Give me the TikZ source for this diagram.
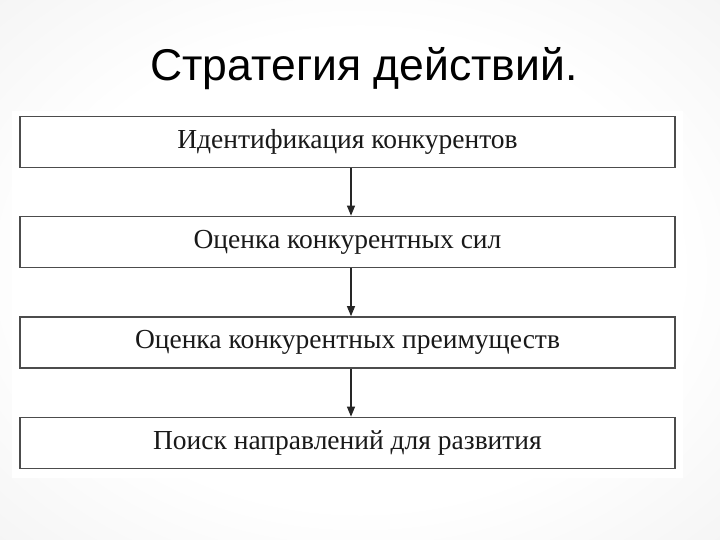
\documentclass[tikz,border=0pt]{standalone}
\usepackage{fontspec}
\setmainfont{Liberation Serif}
\newfontfamily\titlefont{Liberation Sans}
\usetikzlibrary{arrows.meta}
\pgfdeclareradialshading{bgshade}{\pgfpoint{0bp}{0bp}}{color(0bp)=(white); color(22bp)=(white); color(50bp)=(black!8); color(72bp)=(black!12)}
\begin{document}
\begin{tikzpicture}[x=1pt,y=-1pt,
  stepbox/.style={draw=black!70, line width=1.7pt, fill=white, minimum width=655pt, minimum height=51pt, inner sep=0pt,
    font=\fontsize{27.5}{32}\selectfont, text=black!90},
  flow/.style={line width=1.1pt, draw=black!85, -{Triangle[length=10pt,width=8pt]}}]
\useasboundingbox (0,0) rectangle (720,540);
\shade[shading=bgshade] (0,0) rectangle (720,540);
\fill[white] (12,111) rectangle (683,478);
\node[font=\titlefont\fontsize{44.5}{52}\selectfont, anchor=base] (title) at (364,81) {Стратегия действий.};
\node[stepbox] (b1) at (347.5,142) {Идентификация конкурентов};
\node[stepbox] (b2) at (347.5,242) {Оценка конкурентных сил};
\node[stepbox] (b3) at (347.5,342.5) {Оценка конкурентных преимуществ};
\node[stepbox] (b4) at (347.5,443) {Поиск направлений для развития};
\draw[flow] ([xshift=3.5pt]b1.south) -- ([xshift=3.5pt]b2.north);
\draw[flow] ([xshift=3.5pt]b2.south) -- ([xshift=3.5pt]b3.north);
\draw[flow] ([xshift=3.5pt]b3.south) -- ([xshift=3.5pt]b4.north);
\end{tikzpicture}
\end{document}
